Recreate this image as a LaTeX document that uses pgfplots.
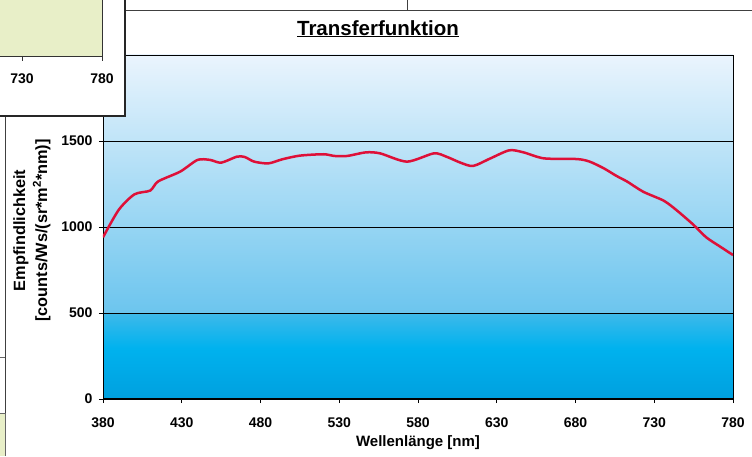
\documentclass[border=0pt]{standalone}
\usepackage{pgfplots}
\pgfplotsset{compat=1.18}
\usepackage{fontspec}
\setmainfont{Liberation Sans}
\definecolor{curve}{RGB}{222,16,56}
\definecolor{bgA}{HTML}{00A0DF}
\definecolor{bgB}{HTML}{00B2EE}
\definecolor{bgC}{HTML}{3FB9EA}
\definecolor{bgD}{HTML}{6CC5EE}
\definecolor{bgE}{HTML}{EAF4FD}
\definecolor{winGreen}{HTML}{E8EFC8}
\begin{document}
\begin{tikzpicture}[x=1pt,y=1pt]
\useasboundingbox (0,0) rectangle (752,456);
\fill[white] (0,0) rectangle (752,456);
% chart area frame
\draw[black!75, line width=0.9pt] (5,456) -- (5,43);
\draw[black!75, line width=0.9pt] (0,446) -- (752,446);
\draw[black!75, line width=0.9pt] (407,446) -- (407,456);
\draw[black!60, line width=0.8pt] (0,99) -- (5,99);
\fill[winGreen] (0,0) rectangle (5,43);
\draw[black!60, line width=0.8pt] (0,43) -- (5,43) -- (5,0);
% plot area gradient
\shade[bottom color=bgA, top color=bgB] (103,57) rectangle (733,108);
\shade[bottom color=bgB, top color=bgC] (103,108) rectangle (733,143.5);
\shade[bottom color=bgD, top color=bgE] (103,143.5) rectangle (733,401);
\begin{axis}[
  at={(103pt,57pt)}, anchor=south west,
  scale only axis, width=630pt, height=344pt,
  xmin=380, xmax=780, ymin=0, ymax=2000,
  xtick={380,430,...,780}, ytick={0,500,1000,1500},
  tick pos=left, tick align=outside, major tick length=4pt,
  ymajorgrids, grid style={black, line width=0.8pt},
  axis line style={black, line width=0.8pt},
  tick style={black, line width=0.8pt},
  /pgf/number format/assume math mode=true,
  /pgf/number format/1000 sep={},
  tick label style={font=\bfseries\fontsize{14}{15}\selectfont},
  xticklabel style={yshift=-11pt},
  yticklabel style={xshift=-3pt},
  xlabel={Wellenlänge [nm]},
  every axis x label/.style={at={(axis description cs:0.5,-0.1279)}, anchor=center, font=\bfseries\fontsize{15}{17}\selectfont},
  ylabel={Empfindlichkeit\\{}[counts/Ws/(sr*m\textsuperscript{2}*nm)]},
  every axis y label/.style={at={(axis description cs:-0.1127,0.49)}, anchor=center, rotate=90, align=center, font=\bfseries\fontsize{16.3}{22}\selectfont},
  title={\underline{Transferfunktion}},
  every axis title/.style={at={(axis description cs:0.4365,1.0581)}, anchor=base, font=\bfseries\fontsize{20.5}{24}\selectfont},
]
\addplot[curve, line width=2.5pt, smooth, tension=0.45] coordinates {
(380,940) (390,1100) (400,1190) (410,1212) (415,1265) (429,1322) (440,1390)
(448,1390) (455,1374) (465,1409) (470,1407) (476,1380) (485,1370) (494,1394)
(505,1415) (520,1423) (527,1413) (535,1413) (547,1434) (556,1428) (573,1380)
(590,1428) (598,1409) (607,1374) (615,1355) (626,1399) (638,1446) (647,1434)
(660,1399) (681,1395) (689,1380) (698,1341) (706,1297) (713,1263) (723,1205)
(736,1153) (744,1099) (755,1012) (763,940) (772,885) (780,837)
};
\draw[black, line width=2.2pt] (axis cs:380,0) -- (axis cs:780,0);
\end{axis}
% overlapping window (top left)
\fill[white] (0,340) rectangle (125,456);
\fill[winGreen] (0,400) rectangle (102,456);
\draw[black!80, line width=0.8pt] (102,456) -- (102,400) -- (0,400);
\draw[black!80, line width=0.8pt] (22,400) -- (22,395);
\draw[black!80, line width=0.8pt] (102,400) -- (102,395);
\node[font=\bfseries\fontsize{14}{15}\selectfont] at (22,377) {730};
\node[font=\bfseries\fontsize{14}{15}\selectfont] at (102,377) {780};
\draw[black!85, line width=1.1pt] (125,456) -- (125,340) -- (0,340);
\end{tikzpicture}
\end{document}
